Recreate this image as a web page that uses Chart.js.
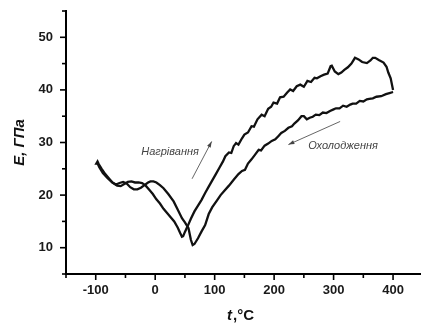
<!DOCTYPE html>
<html lang="uk">
<head>
<meta charset="UTF-8">
<title>E(t)</title>
<style>
    html, body { margin: 0; padding: 0; background: #fff; }
    #wrap { width: 421px; height: 327px; }
</style>
<script src="https://cdn.jsdelivr.net/npm/chart.js"></script>
</head>
<body>
<div id="wrap"><canvas id="chart" width="421" height="327"></canvas></div>
<script>
// heating branch (Нагрівання), t in °C, E in GPa
var heatT = [-98, -94, -88, -80, -72, -64, -58, -52, -46, -40, -34, -28, -22, -16, -10, -4, 2, 8, 14, 20,
    26, 32, 38, 42, 45, 47, 50, 55, 60, 66, 72, 78, 84, 90, 96, 102, 108, 114, 118, 124,
    128, 132, 136, 140, 146, 150, 156, 162, 166, 172, 179, 184, 190, 195, 199, 205, 210, 216, 222, 227,
    232, 238, 244, 250, 256, 262, 268, 272, 278, 284, 290, 295, 297, 302, 308, 313, 318, 324, 330, 336,
    342, 348, 356, 362, 366, 370, 376, 384, 389, 392, 396, 400];
var heatE = [26.3, 25.3, 24.2, 23.2, 22.4, 21.8, 21.7, 22.1, 22.5, 22.6, 22.4, 22.4, 22.3, 21.8, 21.0, 20.2, 19.2, 18.4, 17.4, 16.6,
    15.8, 15.0, 13.8, 12.8, 12.1, 12.2, 13.0, 14.2, 15.5, 16.9, 18.0, 19.1, 20.4, 21.6, 22.8, 24.0, 25.2, 26.4, 27.4, 28.1,
    28.0, 29.3, 29.9, 29.6, 30.8, 31.5, 31.9, 33.1, 33.0, 34.4, 35.3, 35.0, 36.4, 36.8, 37.6, 37.4, 38.6, 38.7, 39.5, 40.1,
    39.8, 40.7, 41.0, 40.6, 41.7, 41.5, 42.3, 42.2, 42.6, 42.9, 43.1, 44.5, 44.6, 43.5, 43.0, 43.3, 43.8, 44.3, 45.0, 46.1,
    45.8, 45.3, 45.1, 45.6, 46.1, 46.1, 45.7, 45.2, 44.4, 43.3, 42.2, 40.0];

// cooling branch (Охолодження)
var coolT = [400, 394, 388, 380, 372, 366, 360, 356, 350, 344, 338, 332, 328, 322, 316, 310, 304, 300, 294, 288,
    282, 276, 270, 265, 260, 255, 250, 246, 240, 234, 230, 224, 218, 212, 207, 202, 196, 190, 184, 178,
    174, 168, 162, 156, 151, 146, 140, 132, 124, 116, 110, 104, 96, 90, 84, 78, 72, 66, 63, 60,
    56, 50, 45, 38, 31, 22, 14, 8, 2, -3, -8, -12, -18, -24, -30, -36, -42, -48, -54, -60,
    -66, -72, -78, -84, -90, -95, -97, -99, -98];
var coolE = [39.6, 39.4, 39.2, 38.8, 38.7, 38.4, 38.3, 38.2, 37.8, 37.9, 37.4, 37.4, 37.2, 36.8, 37.0, 36.5, 36.5, 36.3, 36.0, 35.6,
    35.7, 35.2, 35.3, 34.9, 34.7, 34.4, 35.0, 35.0, 34.2, 33.6, 33.1, 32.8, 32.2, 31.8, 31.2, 30.6, 30.3, 29.8, 29.4, 28.5,
    28.6, 27.7, 26.8, 26.0, 24.8, 24.6, 24.0, 22.9, 21.8, 20.8, 20.0, 19.0, 17.7, 16.4, 14.3, 13.1, 11.8, 10.7, 10.5, 11.5,
    13.7, 14.8, 15.6, 17.2, 18.8, 20.2, 21.3, 21.9, 22.4, 22.6, 22.6, 22.4, 21.9, 21.4, 21.1, 21.1, 21.5, 22.2, 22.5, 22.3,
    22.0, 22.4, 23.2, 24.0, 25.0, 25.9, 26.4, 26.0, 26.3];

var xTicks = [-100, 0, 100, 200, 300, 400];
var yTicks = [10, 20, 30, 40, 50];

function points(xs, ys) {
    return xs.map(function(x, i) { return { x: x, y: ys[i] }; });
}

// minor/major tick marks, axis titles and the two arrow notes
var decor = {
    id: 'decor',
    afterDraw: function(chart) {
        var ctx = chart.ctx;
        var xs = chart.scales.x, ys = chart.scales.y;
        var area = chart.chartArea;
        ctx.save();
        ctx.strokeStyle = '#000';
        ctx.lineWidth = 1.6;
        for (var v = -150; v <= 450; v += 50) {
            var px = xs.getPixelForValue(v);
            if (px < area.left - 1 || px > area.right) continue;
            var len = v % 100 === 0 ? 6 : 4;
            ctx.beginPath();
            ctx.moveTo(px, area.bottom);
            ctx.lineTo(px, area.bottom + len);
            ctx.stroke();
        }
        for (var w = 5; w <= 55; w += 5) {
            var py = ys.getPixelForValue(w);
            var l = w % 10 === 0 ? 6 : 4;
            ctx.beginPath();
            ctx.moveTo(area.left, py);
            ctx.lineTo(area.left - l, py);
            ctx.stroke();
        }

        // axis titles
        ctx.fillStyle = '#111';
        ctx.textBaseline = 'middle';
        ctx.save();
        ctx.translate(20, (area.top + area.bottom) / 2);
        ctx.rotate(-Math.PI / 2);
        ctx.textAlign = 'center';
        ctx.font = 'italic bold 15px "Liberation Sans", Arial, sans-serif';
        ctx.fillText('E, ГПа', 0, 0);
        ctx.restore();

        var t1 = 't', t2 = ',°C';
        ctx.font = 'italic bold 15px "Liberation Sans", Arial, sans-serif';
        var w1 = ctx.measureText(t1).width;
        ctx.font = 'bold 15px "Liberation Sans", Arial, sans-serif';
        var w2 = ctx.measureText(t2).width;
        var x0 = 240 - (w1 + w2) / 2;
        ctx.textAlign = 'left';
        ctx.font = 'italic bold 15px "Liberation Sans", Arial, sans-serif';
        ctx.fillText(t1, x0, 316);
        ctx.font = 'bold 15px "Liberation Sans", Arial, sans-serif';
        ctx.fillText(t2, x0 + w1 + 1, 316);

        // notes with arrows
        var notes = [
            { text: 'Нагрівання', tx: 25, ty: 28.3, from: [62, 23.1], to: [95, 30.2] },
            { text: 'Охолодження', tx: 316, ty: 29.4, from: [311, 34.0], to: [224, 29.6] }
        ];
        notes.forEach(function(n) {
            ctx.font = 'italic 11px "Liberation Sans", Arial, sans-serif';
            ctx.fillStyle = '#444';
            ctx.textAlign = 'center';
            ctx.fillText(n.text, xs.getPixelForValue(n.tx), ys.getPixelForValue(n.ty));
            var ax = xs.getPixelForValue(n.from[0]), ay = ys.getPixelForValue(n.from[1]);
            var bx = xs.getPixelForValue(n.to[0]), by = ys.getPixelForValue(n.to[1]);
            ctx.strokeStyle = '#555';
            ctx.lineWidth = 0.9;
            ctx.beginPath();
            ctx.moveTo(ax, ay);
            ctx.lineTo(bx, by);
            ctx.stroke();
            var ang = Math.atan2(by - ay, bx - ax);
            ctx.fillStyle = '#444';
            ctx.beginPath();
            ctx.moveTo(bx, by);
            ctx.lineTo(bx - 6 * Math.cos(ang) + 2 * Math.sin(ang), by - 6 * Math.sin(ang) - 2 * Math.cos(ang));
            ctx.lineTo(bx - 6 * Math.cos(ang) - 2 * Math.sin(ang), by - 6 * Math.sin(ang) + 2 * Math.cos(ang));
            ctx.closePath();
            ctx.fill();
        });
        ctx.restore();
    }
};

var tickFont = { family: '"Liberation Sans", Arial, sans-serif', size: 13, weight: 'bold' };

new Chart(document.getElementById('chart'), {
    type: 'scatter',
    data: {
        datasets: [{
            label: 'Нагрівання',
            data: points(heatT, heatE),
            showLine: true,
            borderColor: '#111',
            borderWidth: 2.3,
            pointRadius: 0,
            tension: 0
        }, {
            label: 'Охолодження',
            data: points(coolT, coolE),
            showLine: true,
            borderColor: '#111',
            borderWidth: 2.3,
            pointRadius: 0,
            tension: 0
        }]
    },
    options: {
        responsive: false,
        animation: false,
        layout: { padding: { top: 11, right: 0, left: 0, bottom: 0 } },
        plugins: { legend: { display: false }, tooltip: { enabled: false } },
        scales: {
            x: {
                type: 'linear',
                min: -150,
                max: 447,
                afterBuildTicks: function(s) { s.ticks = xTicks.map(function(v) { return { value: v }; }); },
                afterFit: function(s) { s.height = 53; s.paddingLeft = 0; s.paddingRight = 0; },
                grid: { display: false, drawTicks: false },
                border: { display: true, color: '#000', width: 2 },
                ticks: { color: '#1a1a1a', font: tickFont, padding: 9, maxRotation: 0 }
            },
            y: {
                min: 5,
                max: 55,
                afterBuildTicks: function(s) { s.ticks = yTicks.map(function(v) { return { value: v }; }); },
                afterFit: function(s) { s.width = 66; s.paddingTop = 0; s.paddingBottom = 0; },
                grid: { display: false, drawTicks: false },
                border: { display: true, color: '#000', width: 2 },
                ticks: { color: '#1a1a1a', font: tickFont, padding: 13 }
            }
        }
    },
    plugins: [decor]
});
</script>
</body>
</html>
